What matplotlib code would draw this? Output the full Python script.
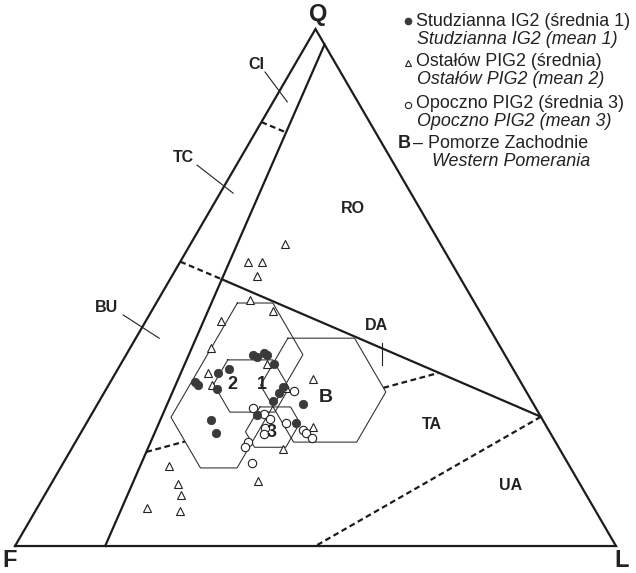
import numpy as np
import matplotlib
matplotlib.use("Agg")
import matplotlib.pyplot as plt

plt.rcParams['font.family'] = ['Liberation Sans', 'DejaVu Sans']

# ---- sample compositions, Q and L in percent (F = 100 - Q - L) ----
stud_Q = [36.9, 36.6, 37.3, 36.9, 35.2, 33.5, 34.2, 31.7, 31.1, 30.4,
          30.8, 29.6, 28.0, 27.5, 25.3, 24.4, 21.9, 23.8]
stud_L = [21.1, 22.0, 22.7, 23.4, 25.5, 17.1, 18.5, 14.1, 14.9, 18.4,
          29.2, 29.1, 28.9, 34.2, 27.6, 20.4, 22.5, 34.9]

ost_Q = [58.4, 54.9, 54.9, 52.2, 47.6, 45.5, 43.5, 38.3, 33.5, 31.1, 35.2,
         32.3, 30.6, 23.0, 18.8, 12.6, 15.5, 12.0, 9.9, 7.35, 6.8]
ost_L = [15.7, 11.4, 13.6, 14.2, 15.3, 20.1, 12.5, 13.4, 15.4, 17.2, 24.3,
         33.4, 29.8, 38.1, 35.2, 34.1, 17.8, 21.1, 22.7, 18.3, 24.1]

opo_Q = [30.0, 26.7, 25.5, 24.6, 22.8, 21.7, 23.8, 22.4, 21.9, 20.9,
         20.1, 19.1, 16.1]
opo_L = [31.4, 26.3, 28.6, 30.1, 30.2, 30.6, 33.2, 36.7, 37.5, 38.9,
         28.7, 28.7, 31.4]

# ---- mean +/- standard deviation hexagons (1, 2, 3, B) ----
hex_names = ['1', '2', '3', 'B']
hex_mQ = [30.95, 31.05, 23.0, 30.15]
hex_mF = [45.2, 47.6, 45.65, 33.5]
hex_mL = [23.85, 21.45, 31.4, 36.05]
hex_sQ = [5.05, 15.95, 3.9, 10.05]
hex_sF = [6.1, 14.0, 4.95, 10.1]
hex_sL = [6.45, 7.95, 4.1, 10.75]
# positions of the hexagon numbers (Q, L)
hex_lab_Q = [31.3, 31.3, 22.05, 28.8]
hex_lab_L = [25.4, 20.6, 31.6, 37.3]

# ---- Dickinson QFL field boundaries, (Q, L) pairs ----
cb_line = [(97.0, 3.0), (0.0, 15.0)]
ci_tc = [(82.0, 0.0), (80.0, 5.1)]
tc_bu = [(55.0, 0.0), (51.6, 8.6)]
ro_line = [(51.6, 8.6), (25.0, 75.0)]
da_ta = [(18.2, 12.75), (33.5, 53.8)]
ta_ua = [(25.0, 75.0), (0.0, 50.0)]


def proj(Q, L):
    Q = np.asarray(Q, dtype=float)
    L = np.asarray(L, dtype=float)
    return L + Q / 2.0, Q * np.sqrt(3) / 2.0


fig = plt.figure(figsize=(6.36, 5.73), dpi=100)
ax = fig.add_axes([0, 0, 1, 1])
ax.set_xlim(-2.50, 103.33)
ax.set_ylim(-4.52, 91.46)
ax.axis('off')

INK = '#1c1c1c'
LW = 1.6
DASH = (0, (2.6, 1.6))

# outer triangle
tx, ty = proj([0, 100, 0, 0], [0, 0, 100, 0])
ax.plot(tx, ty, color=INK, lw=LW, solid_joinstyle='miter', zorder=3)


def seg(pts, **kw):
    x, y = proj([p[0] for p in pts], [p[1] for p in pts])
    ax.plot(x, y, color=INK, lw=LW, zorder=3, **kw)


seg(cb_line)
seg(ro_line)
seg(ci_tc, linestyle=DASH)
seg(tc_bu, linestyle=DASH)
seg(ta_ua, linestyle=DASH)


# hexagons
def hex_bounds(i):
    return (hex_mQ[i] - hex_sQ[i], hex_mQ[i] + hex_sQ[i],
            hex_mF[i] - hex_sF[i], hex_mF[i] + hex_sF[i],
            hex_mL[i] - hex_sL[i], hex_mL[i] + hex_sL[i])


for i in range(len(hex_names)):
    q0, q1, f0, f1, l0, l1 = hex_bounds(i)
    vq = [q1, q1, 100 - f0 - l1, q0, q0, 100 - f1 - l0, q1]
    vl = [l0, 100 - q1 - f0, l1, l1, 100 - q0 - f1, l0, l0]
    hx, hy = proj(vq, vl)
    ax.plot(hx, hy, color='#2a2a2a', lw=0.75, zorder=2)

# dissected / transitional arc boundary, interrupted inside the hexagons
t = np.linspace(0, 1, 3000)
lq = da_ta[0][0] + t * (da_ta[1][0] - da_ta[0][0])
ll = da_ta[0][1] + t * (da_ta[1][1] - da_ta[0][1])
lf = 100 - lq - ll
inside = np.zeros_like(t, dtype=bool)
for i in range(len(hex_names)):
    q0, q1, f0, f1, l0, l1 = hex_bounds(i)
    inside |= ((lq >= q0) & (lq <= q1) & (lf >= f0) & (lf <= f1)
               & (ll >= l0) & (ll <= l1))
edges = np.flatnonzero(np.diff(np.r_[0, (~inside).astype(int), 0]))
for a, b in zip(edges[::2], edges[1::2]):
    x, y = proj(lq[a:b], ll[a:b])
    ax.plot(x, y, color=INK, lw=LW, linestyle=DASH, zorder=3)

# samples
x, y = proj(ost_Q, ost_L)
ax.plot(x, y, ls='none', marker='^', ms=6.4, mfc='white', mec='#222',
        mew=0.8, zorder=4)
x, y = proj(opo_Q, opo_L)
ax.plot(x, y, ls='none', marker='o', ms=6.0, mfc='white', mec='#222',
        mew=0.8, zorder=4)
x, y = proj(stud_Q, stud_L)
ax.plot(x, y, ls='none', marker='o', ms=6.0, mfc='#3a3a3a', mec='#3a3a3a',
        mew=0.6, zorder=5)

# hexagon numbers
for name, q, l in zip(hex_names, hex_lab_Q, hex_lab_L):
    px, py = proj(q, l)
    ax.text(px, py, name, fontsize=14 if name == 'B' else 13,
            fontweight='bold', color='#222', ha='center', va='center',
            zorder=6)

# vertex labels
vt = dict(fontsize=17, fontweight='bold', color='#222', ha='center',
          va='center')
ax.text(50.4, 89.0, 'Q', **vt)
ax.text(-0.9, -2.4, 'F', **vt)
ax.text(101.0, -2.4, 'L', **vt)

# field labels
ft = dict(fontsize=11.5, fontweight='bold', color='#222', ha='center',
          va='center')
ax.text(56.2, 56.6, 'RO', **ft)
ax.text(60.2, 37.0, 'DA', **ft)
ax.text(69.4, 20.3, 'TA', **ft)
ax.text(82.4, 10.2, 'UA', **ft)
ax.text(15.3, 40.0, 'BU', **ft)
ax.text(28.0, 65.0, 'TC', **ft)
ax.text(40.1, 80.6, 'CI', **ft)

# leader lines
for (x0, y0, x1, y1) in [(41.6, 79.4, 45.3, 74.4), (30.3, 63.8, 36.3, 59.1),
                         (18.0, 38.7, 24.0, 34.8), (61.1, 34.0, 61.1, 30.3)]:
    ax.plot([x0, x1], [y0, y1], color='#222', lw=0.8, zorder=3)

# key
W, H = 636.0, 573.0


def fx(px):
    return px / W


def fy(py):
    return 1 - py / H


kt = dict(fontsize=12.9, color='#222', va='center', ha='left')
fig.text(fx(416), fy(21), 'Studzianna IG2 (średnia 1)', **kt)
fig.text(fx(417), fy(39), 'Studzianna IG2 (mean 1)', style='italic', **kt)
fig.text(fx(416), fy(62), 'Ostałów PIG2 (średnia)', **kt)
fig.text(fx(417), fy(80), 'Ostałów PIG2 (mean 2)', style='italic', **kt)
fig.text(fx(416), fy(104), 'Opoczno PIG2 (średnia 3)', **kt)
fig.text(fx(417), fy(122), 'Opoczno PIG2 (mean 3)', style='italic', **kt)
fig.text(fx(398), fy(144), 'B', fontweight='bold', fontsize=12.9,
         color='#222', va='center', ha='left')
fig.text(fx(413), fy(144), '– Pomorze Zachodnie', **kt)
fig.text(fx(432), fy(162), 'Western Pomerania', style='italic', **kt)

ax.plot([fx(408)], [fy(21)], transform=fig.transFigure, marker='o', ms=4.5,
        mfc='#3a3a3a', mec='#3a3a3a', ls='none', clip_on=False)
ax.plot([fx(408)], [fy(63)], transform=fig.transFigure, marker='^', ms=5,
        mfc='white', mec='#222', mew=0.8, ls='none', clip_on=False)
ax.plot([fx(408)], [fy(105)], transform=fig.transFigure, marker='o', ms=4.5,
        mfc='white', mec='#222', mew=0.8, ls='none', clip_on=False)

fig.savefig('out.png', dpi=100, facecolor='white')
